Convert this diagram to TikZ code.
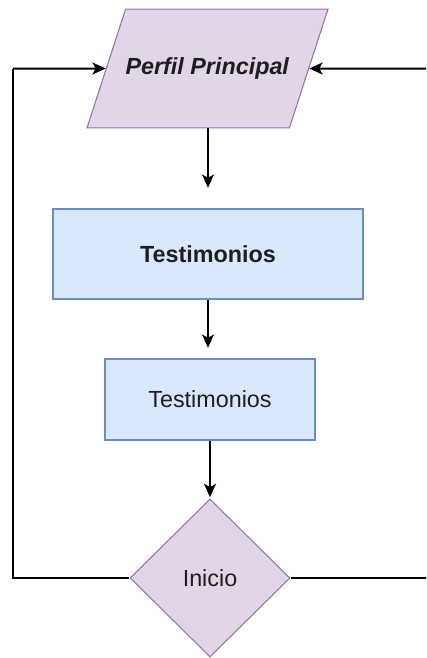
\documentclass[tikz,border=0pt]{standalone}
\usepackage{fontspec}
\setmainfont{Liberation Sans}
\usetikzlibrary{shapes.geometric,arrows.meta}
\definecolor{lilafill}{HTML}{E1D5E7}
\definecolor{lilaline}{HTML}{9673A6}
\definecolor{azulfill}{HTML}{DAE8FC}
\definecolor{azulline}{HTML}{6C8EBF}
\definecolor{texto}{HTML}{1E1E1E}
\tikzset{
  entrada/.style={trapezium, trapezium left angle=72, trapezium right angle=108,
    draw=lilaline, fill=lilafill, line width=0.8pt,
    inner xsep=0pt, inner ysep=36.4pt, text=texto},
  proceso/.style={rectangle, draw=azulline, fill=azulfill, line width=0.8pt,
    inner sep=0pt, text=texto},
  decision/.style={diamond, draw=lilaline, fill=lilafill, line width=0.8pt,
    minimum width=120pt, minimum height=118.5pt, inner sep=0pt, text=texto},
  flecha/.style={line width=1.5pt, -{Stealth[length=10pt,width=9pt,inset=2.5pt]}},
  lazo/.style={line width=1.4pt}
}
\begin{document}
\begin{tikzpicture}[x=0.75pt,y=-0.75pt]
  \clip (0,0) rectangle (426,658);
  {\fontsize{17.5}{21}\selectfont

  % Drawing node Perfil Principal
  \node [entrada] (perfil) at (207.5,68.5) {\textbf{\textit{Perfil Principal}}};%

  % Drawing box Testimonios (bold)
  \node [proceso, minimum width=232.5pt, minimum height=67.5pt] (testA) at (208,254) {\textbf{Testimonios}};%

  % Drawing box Testimonios
  \node [proceso, minimum width=157.5pt, minimum height=60.75pt] (testB) at (210,399.5) {Testimonios};%

  % Drawing diamond Inicio
  \node [decision] (inicio) at (210,578) {Inicio};%

  % Drawing loop corners
  \coordinate (izqB) at (13,68.5);%
  \coordinate (derB) at (429,68.5);%

  % Drawing arrows down the chain
  \draw [flecha, shorten >=15.5pt] (perfil.south -| testA.north) -- (testA.north);%
  \draw [flecha, shorten >=8pt] (testA.south) -- (testA.south |- testB.north);%
  \draw [flecha, shorten >=1pt] (testB.south -| inicio.north) -- (inicio.north);%

  % Drawing loops back to Perfil Principal
  \draw [lazo] (inicio.west) -| (izqB);%
  \draw [flecha] (izqB) -- (perfil);%
  \draw [lazo] (inicio.east) -| (derB);%
  \draw [flecha] (derB) -- (perfil);%
  }
\end{tikzpicture}
\end{document}
